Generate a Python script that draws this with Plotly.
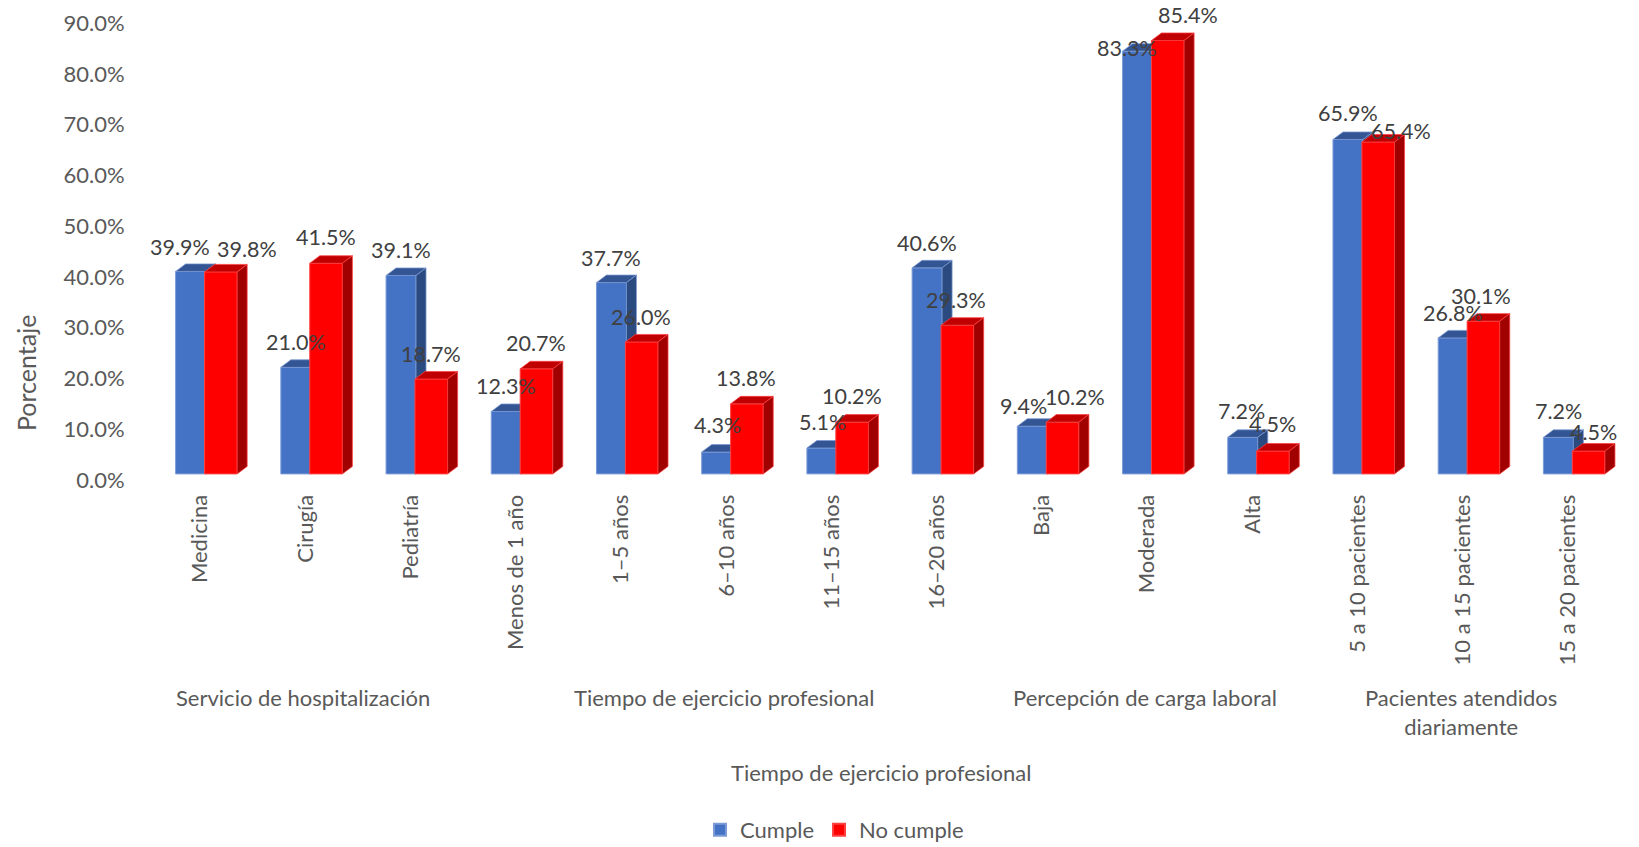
import plotly.graph_objects as go

categories = ["Medicina", "Cirugía", "Pediatría", "Menos de 1 año", "1–5 años", "6–10 años", "11–15 años",
              "16–20 años", "Baja", "Moderada", "Alta", "5 a 10 pacientes", "10 a 15 pacientes", "15 a 20 pacientes"]
cumple = [39.9, 21.0, 39.1, 12.3, 37.7, 4.3, 5.1, 40.6, 9.4, 83.3, 7.2, 65.9, 26.8, 7.2]
no_cumple = [39.8, 41.5, 18.7, 20.7, 26.0, 13.8, 10.2, 29.3, 10.2, 85.4, 4.5, 65.4, 30.1, 4.5]
groups = ["Servicio de hospitalización", "Tiempo de ejercicio profesional", "Percepción de carga laboral",
          "Pacientes atendidos<br>diariamente"]
group_centers = [0.93, 4.93, 8.93, 11.93]

# data labels were moved by hand in the original, pixels from the bar top / category centre
cumple_dx = [-26, -15, -15, -15, -15, -14, -14, -15, -24, -26, -16, -15, -15, -15]
cumple_dy = [24, 25, 25, 25, 25, 27, 26, 25, 20, 3, 26, 26, 25, 26]
no_cumple_dx = [41, 15, 15, 15, 15, 14, 15, 14, 28, 35, 15, 38, 13, 20]
no_cumple_dy = [23, 26, 25, 26, 25, 26, 26, 25, 25, 25, 27, 11, 25, 19]

FONT = "Lato, Carlito, Calibri, sans-serif"
GREY = "#595959"
LABEL = "#404040"
FS = 22

# plot area in pixels
LEFT, RIGHT, TOP, BOTTOM = 153, 13, 7, 366
PLOT_W = 1639 - LEFT - RIGHT
PLOT_H = 847 - TOP - BOTTOM

# fake 3d depth of the bars, in axis units
DEPTH_X = 0.095
DEPTH_Y = 1.48


def faces(values, left, width):
    top_x, top_y, side_x, side_y = [], [], [], []
    for i, v in enumerate(values):
        a = i + left
        b = a + width
        top_x += [a, b, b + DEPTH_X, a + DEPTH_X, a, None]
        top_y += [v, v, v + DEPTH_Y, v + DEPTH_Y, v, None]
        side_x += [b, b + DEPTH_X, b + DEPTH_X, b, b, None]
        side_y += [0, DEPTH_Y, v + DEPTH_Y, v, 0, None]
    return top_x, top_y, side_x, side_y


def add_series(fig, name, values, left, width, color, edge, top_color, side_color, z):
    xs = list(range(len(values)))
    fig.add_trace(go.Bar(x=xs, y=values, name=name, width=width, offset=left, zorder=z,
                         marker=dict(color=color, line=dict(color=edge, width=1))))
    top_x, top_y, side_x, side_y = faces(values, left, width)
    for px, py, c in [(top_x, top_y, top_color), (side_x, side_y, side_color)]:
        fig.add_trace(go.Scatter(x=px, y=py, mode="lines", fill="toself", fillcolor=c, zorder=z + 1,
                                 line=dict(color=edge, width=0.75), showlegend=False, hoverinfo="skip"))


fig = go.Figure()
add_series(fig, "Cumple", cumple, -0.285, 0.285, "#4472C4", "#7C9BD6", "#335593", "#2A4A80", 1)
add_series(fig, "No cumple", no_cumple, -0.01, 0.31, "#FF0000", "#FF4040", "#C00000", "#A00000", 3)
# only here so the shifted percentage axis gets drawn
fig.add_trace(go.Scatter(x=[0], y=[None], yaxis="y2", showlegend=False, hoverinfo="skip"))

for i, c in enumerate(categories):
    for values, dx, dy in [(cumple, cumple_dx, cumple_dy), (no_cumple, no_cumple_dx, no_cumple_dy)]:
        fig.add_annotation(x=i, y=values[i], text=f"{values[i]:.1f}%", showarrow=False, xshift=dx[i], yshift=dy[i],
                           font=dict(family=FONT, size=21.5, color=LABEL))

for g, c in zip(groups, group_centers):
    fig.add_annotation(x=c, y=0, yref="paper", text=g, showarrow=False, yanchor="top", yshift=-201,
                       font=dict(family=FONT, size=FS, color=GREY))

fig.add_annotation(x=(881 - LEFT) / PLOT_W, y=-(772 - (TOP + PLOT_H)) / PLOT_H, xref="paper", yref="paper",
                   xanchor="center", yanchor="middle", text="Tiempo de ejercicio profesional",
                   showarrow=False, font=dict(family=FONT, size=FS, color=GREY))
fig.add_annotation(x=-(LEFT - 26) / PLOT_W, y=((TOP + PLOT_H) - 373) / PLOT_H, xref="paper", yref="paper",
                   xanchor="center", yanchor="middle", text="Porcentaje",
                   textangle=-90, showarrow=False, font=dict(family=FONT, size=25, color=GREY))

fig.update_layout(
    width=1639,
    height=847,
    barmode="overlay",
    plot_bgcolor="white",
    paper_bgcolor="white",
    margin=dict(l=LEFT, r=RIGHT, t=TOP, b=BOTTOM),
    font=dict(family=FONT, size=FS, color=GREY),
    xaxis=dict(range=[-0.5, 13.5], tickmode="array", tickvals=[i - 0.05 for i in range(len(categories))],
               ticktext=categories, tickangle=-90, ticks="outside", ticklen=4, tickcolor="rgba(0,0,0,0)",
               showline=False, showgrid=False, zeroline=False, tickfont=dict(family=FONT, size=FS, color=GREY)),
    yaxis=dict(range=[-1.4, 92], visible=False, showgrid=False, zeroline=False),
    yaxis2=dict(range=[-0.22, 93.18], overlaying="y", side="left", anchor="x", tickmode="array",
                tickvals=list(range(0, 100, 10)), ticktext=[f"{t:.1f}%" for t in range(0, 100, 10)],
                ticks="outside", ticklen=23, tickcolor="rgba(0,0,0,0)", showline=False, showgrid=False,
                zeroline=False, tickfont=dict(family=FONT, size=FS, color=GREY)),
    legend=dict(orientation="h", xref="container", yref="container", x=700 / 1639, y=17 / 847, xanchor="left",
                yanchor="middle", font=dict(family=FONT, size=FS, color=GREY), itemsizing="constant"),
)

# the page's default body margin would push the whole figure by 8px
fig.write_html("out.html", config={"displayModeBar": False}, post_script="document.body.style.margin='0';")
